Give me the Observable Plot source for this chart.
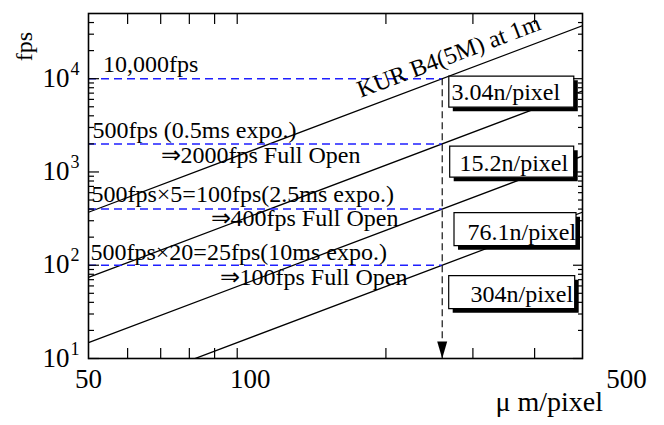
<!DOCTYPE html>
<html><head><meta charset="utf-8">
<script src="https://cdn.jsdelivr.net/npm/d3@7"></script>
<script src="https://cdn.jsdelivr.net/npm/@observablehq/plot@0.6"></script>
<style>body{margin:0;background:#fff}</style>
</head><body><div id="chart"></div>
<script>
// ---- data ----
const series = ["3.04n/pixel", "15.2n/pixel", "76.1n/pixel", "304n/pixel"];
const pixelEnds = [50, 500];                 // µm/pixel at both ends of each line
const fpsAtStart = [370, 74, 14.8, 3.7];     // fps at 50 µm/pixel
const fpsAtEnd = [37000, 7400, 1480, 370];   // fps at 500 µm/pixel
const fpsLevels = [10000, 2000, 400, 100];   // dashed levels
const limitPixel = [260];                    // µm/pixel where KUR line reaches 10,000 fps
const levelLabels = ["10,000fps", "500fps (0.5ms expo.)", "500fps×5=100fps(2.5ms expo.)", "500fps×20=25fps(10ms expo.)"];
const openLabels = ["⇒2000fps Full Open", "⇒400fps Full Open", "⇒100fps Full Open"];
const lineTitle = ["KUR B4(5M) at 1m"];
const xTicks = [60, 70, 80, 90, 100, 200, 300, 400];
const xTickLabels = [50, 100, 500];
const yMajor = [10, 100, 1000, 10000];
const yExponents = ["1", "2", "3", "4"];
const yMinor = [20,30,40,50,60,70,80,90, 200,300,400,500,600,700,800,900,
                2000,3000,4000,5000,6000,7000,8000,9000, 20000,30000,40000];
const xTitle = "μ m/pixel";
const yTitle = "fps";

const lineData = series.flatMap((s, i) => [
  {s, x: pixelEnds[0], y: fpsAtStart[i]},
  {s, x: pixelEnds[1], y: fpsAtEnd[i]}
]);

const serif = "'Liberation Serif','Times New Roman',serif";
const rectSymbol = (w, h) => ({draw(ctx) { ctx.rect(-w / 2, -h / 2, w, h); }});
const arrowSymbol = {draw(ctx) { ctx.moveTo(-5, -17); ctx.lineTo(5, -17); ctx.lineTo(0, 0); ctx.closePath(); }};
const blue = "#1f1fff";

const boxGeom = [
  {dx: 422.8, dy: 78.2, w: 125, h: 31, tx: 363, ty: 86.3},
  {dx: 423.2, dy: 148.2, w: 124, h: 31, tx: 371, ty: 157},
  {dx: 426.5, dy: 215.7, w: 122, h: 33, tx: 379, ty: 226.3},
  {dx: 423.2, dy: 278.7, w: 126, h: 33, tx: 382, ty: 288.7}
];
const boxMarks = series.flatMap((s, i) => {
  const g = boxGeom[i];
  return [
    Plot.dot([s], {frameAnchor: "top-left", dx: g.dx + 4, dy: g.dy + 4, symbol: rectSymbol(g.w, g.h), fill: "black", stroke: "none"}),
    Plot.dot([s], {frameAnchor: "top-left", dx: g.dx, dy: g.dy, symbol: rectSymbol(g.w, g.h), fill: "white", stroke: "black", strokeWidth: 1.2}),
    Plot.text([s], {frameAnchor: "top-left", dx: g.tx, dy: g.ty, text: d => d, textAnchor: "start", lineAnchor: "bottom", fontSize: 24, fill: "black"})
  ];
});

const levelOffsets = [[14.5, -7], [4, -6], [3, -7], [2, -5]];
const openOffsets = [[72, 19], [122, 17], [131, 20]];

const chart = Plot.plot({
  width: 664, height: 425,
  marginLeft: 88, marginRight: 82, marginTop: 13, marginBottom: 67,
  x: {type: "log", domain: [50, 500]},
  y: {type: "log", domain: [10, 50000]},
  style: {fontFamily: serif, background: "white", color: "black"},
  marks: [
    Plot.line(lineData, {x: "x", y: "y", z: "s", stroke: "black", strokeWidth: 1.3, clip: true}),
    Plot.ruleY(fpsLevels, {y: d => d, x1: 50, x2: limitPixel[0], stroke: blue, strokeWidth: 1.5, strokeDasharray: "8,5"}),
    Plot.ruleX(limitPixel, {x: d => d, y1: fpsLevels[0], y2: 10, stroke: "black", strokeWidth: 1.1, strokeDasharray: "7,4"}),
    Plot.dot(limitPixel, {x: d => d, y: () => 10, symbol: arrowSymbol, fill: "black", stroke: "none"}),
    ...levelLabels.map((t, i) => Plot.text([t], {x: () => 50, y: () => fpsLevels[i], text: d => d, dx: levelOffsets[i][0], dy: levelOffsets[i][1], textAnchor: "start", lineAnchor: "bottom", fontSize: 24})),
    ...openLabels.map((t, i) => Plot.text([t], {x: () => 50, y: () => fpsLevels[i + 1], text: d => d, dx: openOffsets[i][0], dy: openOffsets[i][1], textAnchor: "start", lineAnchor: "bottom", fontSize: 24})),
    Plot.text(lineTitle, {frameAnchor: "top-left", dx: 363, dy: 50, text: d => d, rotate: -20.7, textAnchor: "middle", lineAnchor: "bottom", fontSize: 24}),
    ...boxMarks,
    // ticks (inward)
    Plot.axisX(xTicks, {anchor: "bottom", tickSize: -10, fill: "none", label: null, strokeWidth: 1.2}),
    Plot.axisX(xTicks, {anchor: "top", tickSize: -10, fill: "none", label: null, strokeWidth: 1.2}),
    Plot.axisY(yMajor, {anchor: "left", tickSize: -11, fill: "none", label: null, strokeWidth: 1.2}),
    Plot.axisY(yMinor, {anchor: "left", tickSize: -6, fill: "none", label: null, strokeWidth: 1.2}),
    Plot.axisY(yMajor, {anchor: "right", tickSize: -10, fill: "none", label: null, strokeWidth: 1.2}),
    Plot.axisY(yMinor, {anchor: "right", tickSize: -5, fill: "none", label: null, strokeWidth: 1.2}),
    // tick labels
    Plot.text(yMajor, {y: d => d, frameAnchor: "left", text: () => "10", dx: -19, dy: 8, textAnchor: "end", lineAnchor: "bottom", fontSize: 27}),
    Plot.text(yMajor, {y: d => d, frameAnchor: "left", text: (d, i) => yExponents[i], dx: -18, dy: -4, textAnchor: "start", lineAnchor: "bottom", fontSize: 18}),
    Plot.text([xTickLabels[0]], {x: d => d, frameAnchor: "bottom", text: d => String(d), dy: 29, textAnchor: "middle", lineAnchor: "bottom", fontSize: 27}),
    Plot.text([xTickLabels[1]], {x: d => d, frameAnchor: "bottom", text: d => String(d), dx: 13, dy: 29, textAnchor: "middle", lineAnchor: "bottom", fontSize: 27}),
    Plot.text([xTickLabels[2]], {x: d => d, frameAnchor: "bottom", text: d => String(d), dx: 44, dy: 29, textAnchor: "middle", lineAnchor: "bottom", fontSize: 27}),
    Plot.text([xTitle], {frameAnchor: "bottom-right", text: d => d, dx: -87, dy: 52, textAnchor: "start", lineAnchor: "bottom", fontSize: 28}),
    Plot.text([yTitle], {frameAnchor: "top-left", text: d => d, dx: -57, dy: 33, rotate: -90, textAnchor: "middle", lineAnchor: "bottom", fontSize: 24}),
    Plot.frame({stroke: "black", strokeWidth: 1.6})
  ]
});
document.getElementById("chart").appendChild(chart);
</script></body></html>
